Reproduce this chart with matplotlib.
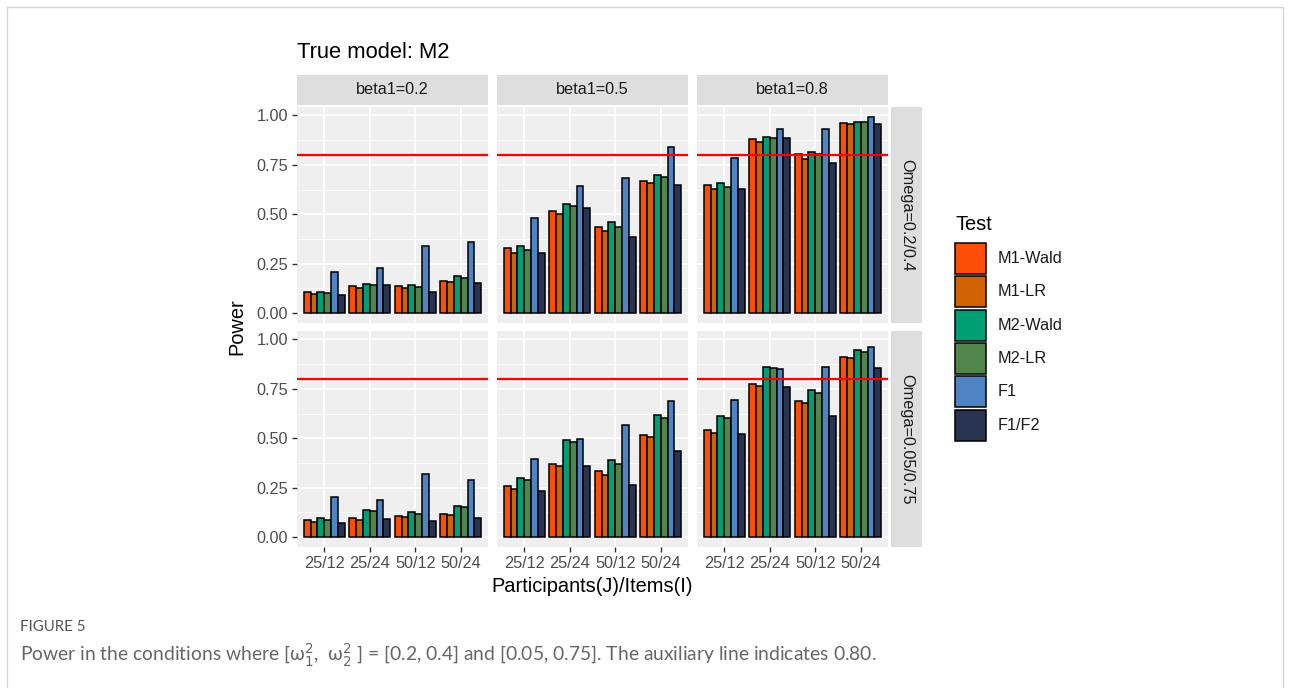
import matplotlib.pyplot as plt
from matplotlib.patches import Rectangle
import numpy as np

plt.rcParams['font.family'] = ['Liberation Sans', 'DejaVu Sans']

# ---------------- data ----------------
groups = ['25/12', '25/24', '50/12', '50/24']
tests = ['M1-Wald', 'M1-LR', 'M2-Wald', 'M2-LR', 'F1', 'F1/F2']
colors = ['#FC4E07', '#D16103', '#009E73', '#52854C', '#4E84C4', '#293352']
betas = ['beta1=0.2', 'beta1=0.5', 'beta1=0.8']
omegas = ['Omega=0.2/0.4', 'Omega=0.05/0.75']

# rows = groups, columns = tests
power_om1_b02 = [[0.108, 0.096, 0.109, 0.101, 0.210, 0.091],
                 [0.135, 0.126, 0.149, 0.144, 0.226, 0.140],
                 [0.138, 0.126, 0.145, 0.130, 0.342, 0.109],
                 [0.164, 0.157, 0.190, 0.178, 0.359, 0.152]]
power_om1_b05 = [[0.330, 0.306, 0.338, 0.318, 0.482, 0.303],
                 [0.518, 0.503, 0.554, 0.542, 0.643, 0.530],
                 [0.438, 0.415, 0.460, 0.434, 0.685, 0.385],
                 [0.670, 0.656, 0.697, 0.687, 0.841, 0.650]]
power_om1_b08 = [[0.650, 0.627, 0.658, 0.639, 0.785, 0.629],
                 [0.880, 0.868, 0.892, 0.884, 0.933, 0.887],
                 [0.807, 0.781, 0.817, 0.803, 0.933, 0.759],
                 [0.962, 0.957, 0.969, 0.966, 0.993, 0.956]]
power_om2_b02 = [[0.085, 0.077, 0.097, 0.085, 0.203, 0.072],
                 [0.097, 0.087, 0.138, 0.132, 0.188, 0.094],
                 [0.109, 0.101, 0.126, 0.116, 0.318, 0.080],
                 [0.116, 0.113, 0.159, 0.154, 0.291, 0.097]]
power_om2_b05 = [[0.258, 0.244, 0.301, 0.291, 0.393, 0.234],
                 [0.368, 0.359, 0.489, 0.482, 0.494, 0.359],
                 [0.333, 0.316, 0.388, 0.368, 0.566, 0.265],
                 [0.515, 0.506, 0.619, 0.602, 0.691, 0.436]]
power_om2_b08 = [[0.542, 0.525, 0.612, 0.602, 0.696, 0.520],
                 [0.773, 0.762, 0.860, 0.858, 0.853, 0.759],
                 [0.689, 0.677, 0.744, 0.730, 0.862, 0.615],
                 [0.909, 0.904, 0.947, 0.938, 0.962, 0.856]]

panels = [[power_om1_b02, power_om1_b05, power_om1_b08],
          [power_om2_b02, power_om2_b05, power_om2_b08]]
threshold = 0.80

# ---------------- layout ----------------
W, H = 1290, 688
fig = plt.figure(figsize=(W / 100, H / 100), dpi=100)


def box(x0, y0, w, h):
    return [x0 / W, 1 - (y0 + h) / H, w / W, h / H]


col_left = [297, 497, 697]
panel_w = 191
row_top = [107, 331]
panel_h = 216
panel_bg = '#EFEFEF'
strip_bg = '#DEDEDE'

ymax = max(max(max(r) for r in p) for row in panels for p in row)
ylim = (-0.05 * ymax, 1.05 * ymax)
x = np.arange(1, len(groups) + 1)
bw = 0.9 / len(tests)
offsets = (np.arange(len(tests)) - (len(tests) - 1) / 2) * bw

for i in range(2):
    for j in range(3):
        ax = fig.add_axes(box(col_left[j], row_top[i], panel_w, panel_h))
        ax.set_facecolor(panel_bg)
        vals = np.array(panels[i][j])
        for k in range(len(tests)):
            ax.bar(x + offsets[k], vals[:, k], width=bw, color=colors[k],
                   edgecolor='black', linewidth=1.1, zorder=2)
        ax.axhline(threshold, color='red', linewidth=1.6, zorder=3)
        ax.set_xlim(0.4, len(groups) + 0.6)
        ax.set_ylim(*ylim)
        ax.set_yticks([0, 0.25, 0.5, 0.75, 1.0])
        ax.set_yticks([0.125, 0.375, 0.625, 0.875], minor=True)
        ax.set_xticks(x)
        ax.set_axisbelow(True)
        ax.grid(which='major', color='white', linewidth=1.2)
        ax.grid(which='minor', axis='y', color='white', linewidth=0.6)
        for s in ax.spines.values():
            s.set_visible(False)
        ax.tick_params(which='major', length=3.5, width=1, color='#333333',
                       labelcolor='#4D4D4D', labelsize=11.7, pad=3)
        ax.tick_params(which='minor', length=0)
        if j == 0:
            ax.set_yticklabels(['0.00', '0.25', '0.50', '0.75', '1.00'])
        else:
            ax.tick_params(axis='y', left=False, labelleft=False)
        if i == 1:
            ax.set_xticklabels(groups)
        else:
            ax.tick_params(axis='x', bottom=False, labelbottom=False)

# top strips
for j in range(3):
    sa = fig.add_axes(box(col_left[j], 75, panel_w, 30))
    sa.set_facecolor(strip_bg)
    sa.set_xticks([])
    sa.set_yticks([])
    for s in sa.spines.values():
        s.set_visible(False)
    sa.text(0.5, 0.5, betas[j], ha='center', va='center', fontsize=11.7,
            color='#1A1A1A', transform=sa.transAxes)

# right strips
for i in range(2):
    sa = fig.add_axes(box(891, row_top[i], 31, panel_h))
    sa.set_facecolor(strip_bg)
    sa.set_xticks([])
    sa.set_yticks([])
    for s in sa.spines.values():
        s.set_visible(False)
    sa.text(0.5, 0.5, omegas[i], ha='center', va='center', fontsize=11.7,
            color='#1A1A1A', rotation=-90, transform=sa.transAxes)

# titles
fig.text(297 / W, 1 - 57.5 / H, 'True model: M2', fontsize=15.8,
         ha='left', va='baseline')
fig.text(237 / W, 1 - 327 / H, 'Power', fontsize=14.4, rotation=90,
         ha='center', va='center')
fig.text(592.5 / W, 1 - 591.5 / H, 'Participants(J)/Items(I)', fontsize=14.4,
         ha='center', va='baseline')

# legend
fig.text(955 / W, 1 - 230 / H, 'Test', fontsize=14.4, ha='left', va='baseline')
for k in range(len(tests)):
    top = 243 + 33.3 * k
    fig.add_artist(Rectangle((955 / W, 1 - (top + 31) / H), 31 / W, 31 / H,
                             facecolor=colors[k], edgecolor='black',
                             linewidth=1.1, transform=fig.transFigure))
    fig.text(998 / W, 1 - (top + 15.5) / H, tests[k], fontsize=11.7,
             ha='left', va='center', color='#1A1A1A')

# caption
fig.text(20 / W, 1 - 627 / H, 'FIGURE 5', fontsize=10.8, color='#555555',
         ha='left', va='center', family=['Lato', 'DejaVu Sans'])
fig.text(20 / W, 1 - 655 / H,
         r'Power in the conditions where [ω${}_{1}^{2}$,  ω${}_{2}^{2}$ ] = [0.2, 0.4] '
         r'and [0.05, 0.75]. The auxiliary line indicates 0.80.',
         fontsize=13.9, color='#666666', ha='left', va='center',
         family=['Lato', 'DejaVu Sans'])

# page frame
fig.add_artist(Rectangle((7 / W, -0.01), (W - 14) / W, 1 - 7 / H + 0.01,
                         facecolor='none', edgecolor='#D5D5D5', linewidth=1,
                         transform=fig.transFigure))

fig.savefig('out.png', dpi=100)
